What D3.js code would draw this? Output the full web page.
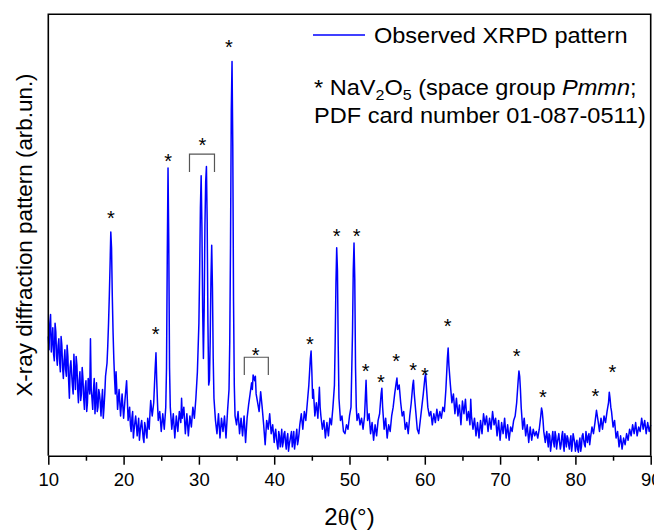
<!DOCTYPE html>
<html>
<head>
<meta charset="utf-8">
<script src="https://cdn.jsdelivr.net/npm/d3@7"></script>
<style>
  body { margin: 0; background: #fff; }
  svg { display: block; font-family: "Liberation Sans", Arial, sans-serif; }
</style>
</head>
<body>
<div id="chart"></div>
<script>
// observed pattern, [2theta (deg), intensity (arb. units, 0..1000 = frame height)]
var observed = [
  [10.0,270],[10.1,240],[10.2,300],[10.3,320],[10.4,235],[10.5,260],[10.6,290],[10.7,230],[10.8,215],[10.9,300],
  [11.0,280],[11.1,225],[11.2,205],[11.3,250],[11.4,265],[11.5,215],[11.6,190],[11.7,270],[11.8,250],[11.9,200],
  [12.0,175],[12.1,215],[12.2,240],[12.3,195],[12.4,180],[12.5,250],[12.6,225],[12.7,170],[12.8,130],[12.9,200],
  [13.0,215],[13.1,185],[13.2,160],[13.3,140],[13.4,230],[13.5,190],[13.6,150],[13.7,225],[13.8,205],[13.9,150],
  [14.0,120],[14.1,170],[14.2,190],[14.3,125],[14.4,140],[14.5,200],[14.6,175],[14.7,130],[14.8,105],[14.9,155],
  [15.0,170],[15.1,100],[15.2,120],[15.3,175],[15.4,160],[15.5,140],[15.6,265],[15.7,150],[15.8,130],[15.9,105],
  [16.0,150],[16.1,175],[16.2,95],[16.3,130],[16.4,165],[16.5,100],[16.6,110],[16.7,150],[16.8,140],[16.9,120],
  [17.0,90],[17.1,125],[17.2,150],[17.3,85],[17.4,110],[17.5,140],[17.6,180],[17.8,210],
  [17.9,250],[18.0,300],[18.1,360],[18.2,430],[18.3,507],[18.4,470],[18.5,360],[18.6,280],[18.7,220],[18.8,175],
  [18.9,140],[19.0,190],[19.2,105],[19.4,150],[19.6,90],[19.8,140],[20.0,85],[20.2,130],[20.4,170],[20.6,80],
  [20.7,95],[20.8,110],[20.9,70],[21.0,55],[21.1,85],[21.2,100],[21.3,40],[21.4,60],[21.5,75],[21.6,90],
  [21.7,70],[21.8,45],[21.9,65],[22.0,85],[22.1,35],[22.2,55],[22.3,70],[22.4,80],[22.5,60],[22.6,40],
  [22.7,30],[22.8,75],[22.9,65],[23.0,50],[23.1,40],[23.2,85],[23.3,70],[23.4,60],[23.5,95],[23.6,125],
  [23.8,90],[24.0,120],[24.1,160],[24.2,200],[24.3,233],
  [24.4,170],[24.5,120],[24.6,80],[24.8,100],[25.0,55],[25.2,95],[25.4,60],[25.6,110],[25.7,200],[25.8,450],
  [25.9,652],[26.0,480],[26.1,200],[26.2,110],[26.4,60],[26.6,95],[26.8,40],[27.0,90],[27.2,55],[27.4,100],
  [27.6,75],[27.7,130],[27.8,85],[28.0,110],[28.2,50],[28.4,95],[28.6,45],[28.8,90],[29.0,65],[29.2,110],
  [29.4,85],[29.6,130],[29.8,190],[30.0,300],[30.1,420],[30.2,560],[30.3,634],[30.4,520],[30.5,330],[30.6,220],
  [30.7,330],[30.8,520],[30.9,620],[31.0,655],[31.1,530],[31.2,300],[31.3,160],[31.4,170],[31.5,260],[31.6,400],
  [31.7,477],[31.8,380],[31.9,220],[32.0,130],[32.2,80],[32.4,50],[32.6,95],[32.8,40],[33.0,85],[33.2,55],
  [33.4,90],[33.6,40],[33.8,100],[34.0,150],[34.1,260],[34.2,480],[34.3,780],[34.4,893],[34.5,700],[34.6,350],
  [34.7,160],[34.8,90],[35.0,70],[35.2,100],[35.4,50],[35.6,85],[35.8,45],[36.0,90],[36.2,30],[36.4,85],
  [36.6,115],[36.8,140],[37.0,165],[37.1,150],[37.2,183],[37.4,170],[37.5,180],[37.6,140],[37.8,120],[38.0,100],
  [38.2,145],[38.4,110],[38.6,70],[38.8,25],[39.0,80],[39.2,60],[39.4,95],[39.6,50],[39.8,70],[40.0,30],
  [40.1,50],[40.2,60],[40.3,40],[40.4,25],[40.5,15],[40.6,55],[40.7,45],[40.8,20],[40.9,35],[41.0,60],
  [41.1,20],[41.2,30],[41.3,50],[41.4,55],[41.5,30],[41.6,15],[41.7,40],[41.8,50],[41.9,10],[42.0,25],
  [42.1,35],[42.2,45],[42.3,55],[42.4,20],[42.5,35],[42.6,55],[42.7,15],[42.8,30],[42.9,45],[43.0,60],
  [43.1,25],[43.2,35],[43.3,50],[43.4,70],[43.6,95],[43.8,60],[44.0,100],
  [44.2,80],[44.4,120],[44.6,160],[44.8,220],[44.9,237],[45.0,190],[45.1,130],[45.2,150],[45.4,90],[45.6,120],
  [45.8,85],[46.0,155],[46.1,110],[46.2,90],[46.4,60],[46.6,80],[46.8,40],[47.0,75],[47.2,45],[47.4,85],
  [47.6,70],[47.8,110],[48.0,160],[48.1,260],[48.2,390],[48.3,471],[48.4,420],[48.5,250],[48.6,130],[48.8,80],
  [49.0,90],[49.2,55],[49.4,50],[49.6,70],[49.8,60],[50.0,90],[50.2,110],[50.4,280],[50.5,420],[50.6,482],
  [50.7,400],[50.8,200],[50.9,110],[51.0,80],[51.2,95],[51.4,70],[51.6,85],[51.8,60],[52.0,90],[52.1,130],
  [52.2,171],[52.3,120],[52.4,80],[52.6,95],[52.8,50],[53.0,75],[53.2,35],[53.4,70],[53.6,45],[53.8,80],
  [54.0,95],[54.2,140],[54.3,153],[54.4,110],[54.6,60],[54.8,85],[55.0,40],[55.2,70],[55.4,55],[55.6,90],
  [55.8,110],[56.0,140],[56.2,165],[56.3,176],[56.4,150],[56.6,160],[56.8,120],[57.0,90],[57.2,100],[57.4,60],
  [57.6,75],[57.8,50],[58.0,90],[58.2,120],[58.4,160],[58.5,171],[58.6,140],[58.8,100],[59.0,60],[59.2,50],
  [59.4,80],[59.6,110],[59.8,140],[60.0,175],[60.1,185],[60.2,160],[60.4,110],[60.6,90],[60.8,100],[61.0,70],
  [61.2,95],[61.4,75],[61.6,105],[61.8,80],[62.0,100],[62.2,85],[62.4,110],[62.6,100],[62.8,150],[63.0,220],
  [63.1,244],[63.2,205],[63.4,160],[63.6,120],[63.8,140],[64.0,95],[64.2,130],[64.4,90],[64.6,115],[64.8,70],
  [65.0,124],[65.2,95],[65.4,128],[65.6,80],[65.8,100],[66.0,70],[66.1,128],[66.2,90],[66.4,60],[66.6,85],
  [66.8,45],[67.0,75],[67.2,40],[67.4,80],[67.6,50],[67.8,95],[68.0,70],[68.2,90],[68.4,55],[68.6,85],
  [68.8,60],[69.0,100],[69.2,70],[69.4,85],[69.6,45],[69.8,80],[70.0,35],[70.2,75],[70.4,50],[70.6,85],
  [70.8,40],[71.0,70],[71.2,35],[71.4,65],[71.6,55],[71.8,80],[72.0,90],[72.2,120],[72.4,170],[72.5,192],
  [72.6,180],[72.7,150],[72.8,110],[73.0,60],[73.2,85],[73.4,45],[73.6,70],[73.8,30],[74.0,65],[74.2,35],
  [74.4,60],[74.6,45],[74.8,55],[75.0,40],[75.2,60],[75.4,90],[75.5,108],[75.6,100],[75.7,80],[75.8,55],
  [76.0,30],[76.1,45],[76.2,55],[76.3,35],[76.4,20],[76.5,50],[76.6,45],[76.7,10],[76.8,25],[76.9,40],
  [77.0,55],[77.1,30],[77.2,20],[77.3,55],[77.4,45],[77.5,15],[77.6,30],[77.7,40],[77.8,50],[77.9,30],
  [78.0,15],[78.1,25],[78.2,45],[78.3,55],[78.4,25],[78.5,10],[78.6,50],[78.7,35],[78.8,20],[78.9,45],
  [79.0,40],[79.1,25],[79.2,15],[79.3,35],[79.4,45],[79.5,10],[79.6,25],[79.7,50],[79.8,40],[79.9,30],
  [80.0,10],[80.1,25],[80.2,35],[80.3,15],[80.4,8],[80.5,30],[80.6,40],[80.7,10],[80.8,20],[80.9,45],
  [81.0,50],[81.1,35],[81.2,25],[81.3,20],[81.4,55],[81.5,40],[81.6,30],[81.7,45],[81.8,50],[81.9,25],
  [82.0,40],[82.2,65],[82.4,50],[82.6,75],[82.8,103],[83.0,80],[83.2,55],[83.4,85],[83.6,60],[83.8,90],
  [84.0,75],[84.2,100],[84.4,120],[84.5,144],[84.6,130],[84.7,110],[84.8,100],[85.0,65],[85.2,80],[85.4,40],
  [85.6,55],[85.8,20],[86.0,45],[86.2,15],[86.4,40],[86.6,25],[86.8,50],[87.0,35],[87.2,60],[87.4,45],
  [87.6,70],[87.8,50],[88.0,75],[88.2,45],[88.4,65],[88.6,55],[88.8,85],[89.0,60],[89.2,80],[89.4,50],
  [89.6,75],[89.8,55],[90.0,70]
];

// NaV2O5 reflections marked with "*": [2theta, height of the mark]
var peakMarks = [
  [18.33,549],[24.26,285],[25.9,677],[30.45,715],[34.0,935],[37.54,239],[44.75,264],
  [48.3,507],[50.96,507],[52.15,201],[54.18,178],[56.18,224],[58.44,205],[60.03,194],
  [63.04,304],[72.2,236],[75.7,143],[82.64,145],[84.9,199]
];
// grouped reflections: [from, to, top, legBottom]
var peakGroups = [
  [28.75,32.07,683,643],
  [36.03,39.22,223,183]
];

var xMajorTicks = [10, 20, 30, 40, 50, 60, 70, 80, 90];
var xMinorTicks = [15, 25, 35, 45, 55, 65, 75, 85];
var legendLabel = "Observed XRPD pattern";
var cardLabel = "PDF card number 01-087-0511)";

var attrs = {
  width: 654,
  height: 532,
  margin: { top: 14.3, right: 3.3, bottom: 76.3, left: 48.3 },
  lineColor: "#0000ff",
  lineWidth: 1.5,
  frameWidth: 1.6
};
var _drawWidth = attrs.width - attrs.margin.left - attrs.margin.right;
var _drawHeight = attrs.height - attrs.margin.top - attrs.margin.bottom;

var svg = d3.select("#chart").append("svg")
  .attr("width", attrs.width)
  .attr("height", attrs.height);

var g = svg.append("g")
  .attr("transform", "translate(" + attrs.margin.left + "," + attrs.margin.top + ")");

var x = d3.scaleLinear().domain([10, 90]).range([0, _drawWidth]);
var y = d3.scaleLinear().domain([0, 1000]).range([_drawHeight, 0]);

// pattern
var line = d3.line()
  .x(function(d){ return x(d[0]); })
  .y(function(d){ return y(d[1]); });

g.append("path")
  .datum(observed)
  .attr("d", line)
  .attr("fill", "none")
  .attr("stroke", attrs.lineColor)
  .attr("stroke-width", attrs.lineWidth)
  .attr("stroke-linejoin", "round");

// brackets over overlapping reflections
g.selectAll(".group-bracket").data(peakGroups).enter()
  .append("path")
  .attr("class", "group-bracket")
  .attr("d", function(d){
    return "M" + x(d[0]) + "," + y(d[3]) + "V" + y(d[2]) + "H" + x(d[1]) + "V" + y(d[3]);
  })
  .attr("fill", "none")
  .attr("stroke", "#555")
  .attr("stroke-width", 1.2);

// asterisks
g.selectAll(".mark").data(peakMarks).enter()
  .append("text")
  .attr("class", "mark")
  .attr("x", function(d){ return x(d[0]); })
  .attr("y", function(d){ return y(d[1]) + 11.5; })
  .attr("text-anchor", "middle")
  .style("font-size", "20px")
  .style("fill", "#000")
  .text("*");

// frame
g.append("path")
  .attr("d", "M0," + _drawHeight + "V0H" + _drawWidth + "V" + _drawHeight)
  .attr("fill", "none")
  .attr("stroke", "#000")
  .attr("stroke-width", attrs.frameWidth);

// x axis
var xAxis = g.append("g")
  .attr("transform", "translate(0," + _drawHeight + ")")
  .call(d3.axisBottom(x).tickValues(xMajorTicks).tickSize(9).tickPadding(8.6).tickSizeOuter(0));
xAxis.select(".domain").attr("stroke-width", attrs.frameWidth);
xAxis.selectAll(".tick line").attr("stroke-width", 1.5);
xAxis.selectAll("text").style("font-size", "18.5px").style("font-family", "Liberation Sans, Arial, sans-serif").attr("fill", "#000");

var xMinor = g.append("g")
  .attr("transform", "translate(0," + _drawHeight + ")")
  .call(d3.axisBottom(x).tickValues(xMinorTicks).tickSize(5).tickFormat(""));
xMinor.select(".domain").remove();
xMinor.selectAll(".tick line").attr("stroke-width", 1.5);

// axis titles
var xTitle = svg.append("text")
  .attr("x", attrs.margin.left + _drawWidth / 2)
  .attr("y", 525)
  .attr("text-anchor", "middle")
  .style("font-size", "24px");
xTitle.append("tspan").text("2");
xTitle.append("tspan").style("font-family", "Liberation Serif, Times New Roman, serif").text("θ");
xTitle.append("tspan").text("(°)");

svg.append("text")
  .attr("transform", "translate(31.5,235) rotate(-90)")
  .attr("text-anchor", "middle")
  .style("font-size", "22.4px")
  .text("X-ray diffraction pattern (arb.un.)");

// legend
var legend = svg.append("g")
  .attr("transform", "translate(313,0) scale(1.07,1)");

legend.append("line")
  .attr("x1", 0).attr("x2", 48.6)
  .attr("y1", 35).attr("y2", 35)
  .attr("stroke", attrs.lineColor)
  .attr("stroke-width", 1.5);

legend.append("text")
  .attr("x", 57)
  .attr("y", 43.3)
  .style("font-size", "22px")
  .text(legendLabel);

var phase = legend.append("text")
  .attr("x", 1)
  .attr("y", 95)
  .style("font-size", "22px");
phase.append("tspan").text("* NaV");
phase.append("tspan").attr("dy", 5).style("font-size", "15px").text("2");
phase.append("tspan").attr("dy", -5).text("O");
phase.append("tspan").attr("dy", 5).style("font-size", "15px").text("5");
phase.append("tspan").attr("dy", -5).text(" (space group ");
phase.append("tspan").style("font-style", "italic").text("Pmmn");
phase.append("tspan").text(";");

legend.append("text")
  .attr("x", 1)
  .attr("y", 123)
  .style("font-size", "22px")
  .text(cardLabel);
</script>
</body>
</html>
